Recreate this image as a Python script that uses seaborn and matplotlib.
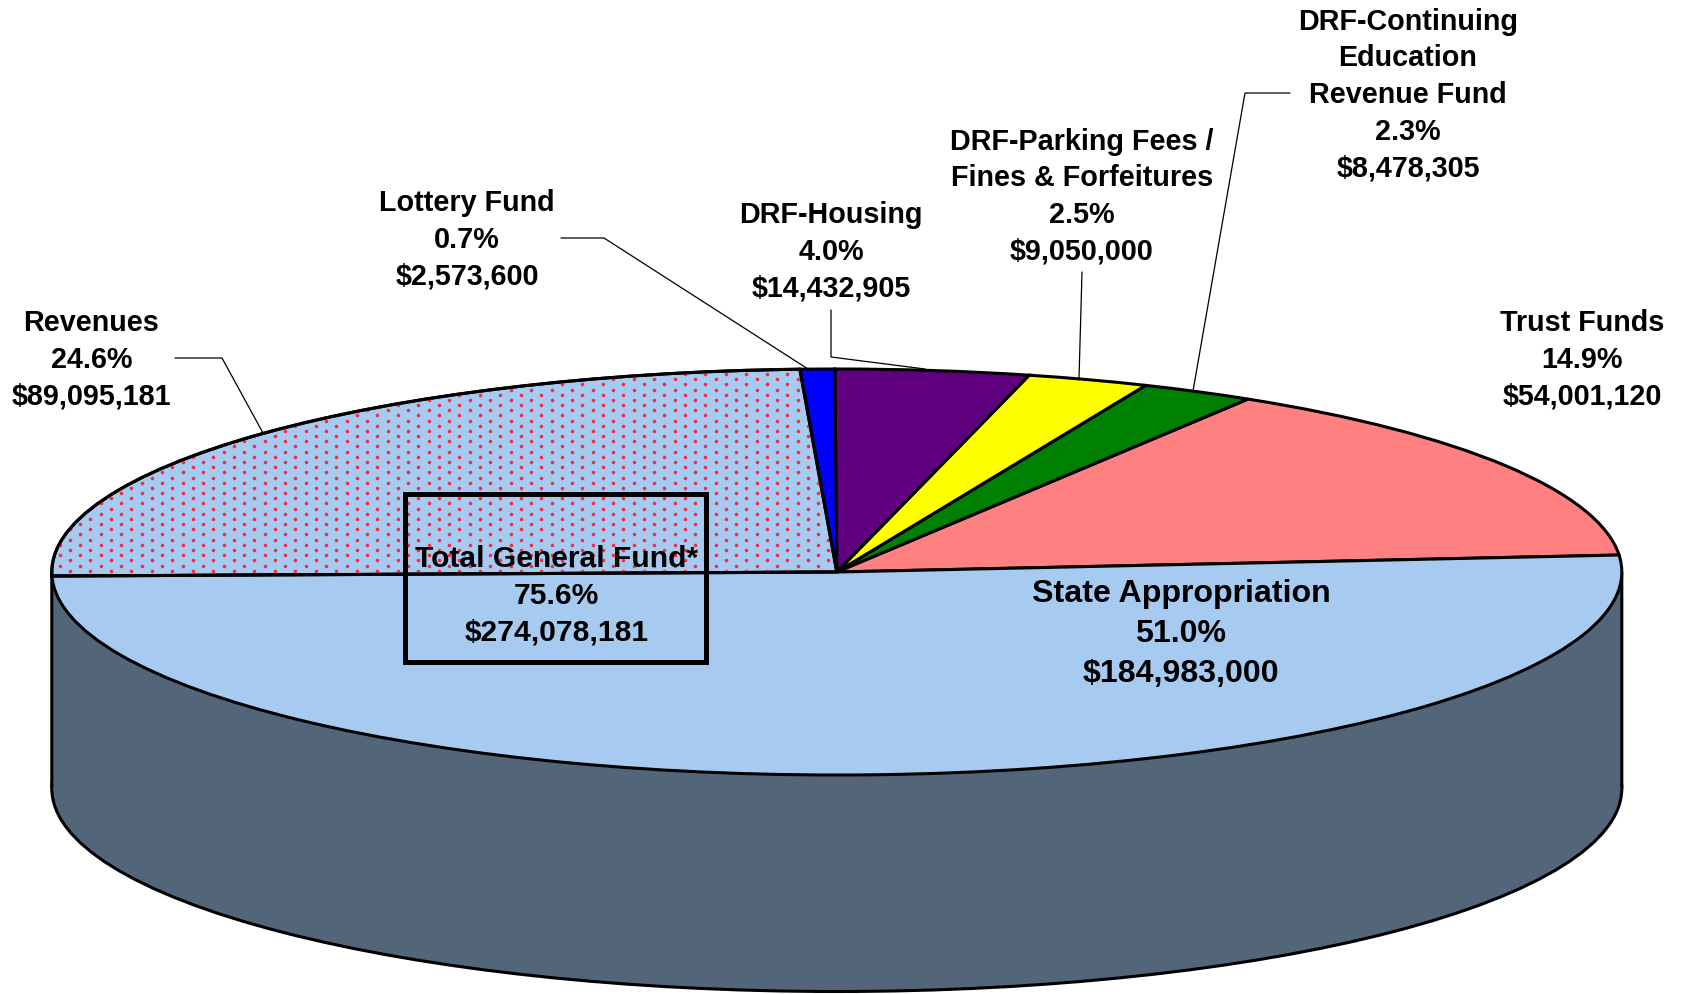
import numpy as np
import matplotlib
matplotlib.use("Agg")
import matplotlib.pyplot as plt
from matplotlib.patches import Rectangle, Wedge, Ellipse
import seaborn as sns

# ---- data -----------------------------------------------------------
categories = ["Trust Funds", "DRF-Continuing\nEducation\nRevenue Fund",
              "DRF-Parking Fees /\nFines & Forfeitures", "DRF-Housing",
              "Lottery Fund", "Revenues", "State Appropriation"]
amounts = [54001120, 8478305, 9050000, 14432905, 2573600, 89095181, 184983000]
general_fund_members = ["Revenues", "State Appropriation"]
general_fund_label = "Total General Fund*"

# ---- style ----------------------------------------------------------
slice_colors = ["#FF8080", "#008000", "#FFFF00", "#5F007F", "#0000FF", "#A6CAF0", "#A6CAF0"]
wall_color = "#536579"
dot_color = "#F22A44"

W, H = 1686, 995
CX, CY, RX, RY = 836.8, 573.0, 785.0, 203.0   # ellipse geometry, pixels
DEPTH = 216.5 / RY
START = 4.8

sns.set_theme(style="white")
plt.rcParams["font.family"] = ["Liberation Sans", "DejaVu Sans"]
plt.rcParams["font.weight"] = "bold"

fig = plt.figure(figsize=(W / 100, H / 100), dpi=100, facecolor="white")
ax = fig.add_axes([0, 0, 1, 1])


def px(x, y):
    """pixel position in the reference -> data coordinates of the pie axes"""
    return (x - CX) / RX, (CY - y) / RY


EDGE = dict(edgecolor="black", linewidth=2.2)

# side wall: lower face + body
ax.pie([1], colors=[wall_color], center=(0, -DEPTH), radius=1,
       wedgeprops=dict(zorder=1, linewidth=0))
ax.add_patch(Ellipse((0, -DEPTH), 2, 2, fill=False, zorder=1.05, **EDGE))
ax.fill_between([-1, 1], [-DEPTH, -DEPTH], [0, 0], color=wall_color, lw=0, zorder=1.1)
for side in (-1, 1):
    ax.plot([side, side], [-DEPTH, 0], color="black", lw=2.2, zorder=1.2,
            solid_capstyle="butt", snap=False)

# top face
wedges, _ = ax.pie(amounts, colors=slice_colors, startangle=START, counterclock=True,
                   center=(0, 0), radius=1,
                   wedgeprops=dict(zorder=2, **EDGE))
for w in wedges:
    w.set_zorder(2)

by_name = dict(zip(categories, wedges))

# dotted fill of the Revenues slice
lat_x, lat_y = [], []
for i in range(0, 45):
    row_x = np.arange(-2, 44) * 20.5 + 70 + (10.25 if i % 2 else 0)
    lat_x.extend(row_x)
    lat_y.extend([571.7 - 5.176 * i] * len(row_x))
dx, dy = px(np.array(lat_x), np.array(lat_y))
before = len(ax.collections)
sns.scatterplot(x=dx, y=dy, ax=ax, color=dot_color, s=6.5, linewidth=0, legend=False, zorder=2.1)
ax.collections[before].set_clip_path(by_name["Revenues"])
# redraw outline of the slice above the dots
outline = by_name["Revenues"]
ax.add_patch(Wedge((0, 0), 1, outline.theta1, outline.theta2, fill=False, zorder=2.2, **EDGE))

ax.set_aspect("auto")
ax.set_xlim(-CX / RX, (W - CX) / RX)
ax.set_ylim((CY - H) / RY, CY / RY)
ax.set_xlabel("")
ax.set_ylabel("")
ax.axis("off")

# ---- labels ---------------------------------------------------------
total = sum(amounts)


def block(name, value):
    return f"{name}\n{value / total * 100:.1f}%\n${value:,.0f}"


label_pos = {
    "Revenues": (91.4, 360, 20.7, 1.39),
    "Lottery Fund": (467, 240, 20.7, 1.39),
    "DRF-Housing": (831, 251.5, 20.7, 1.39),
    "DRF-Parking Fees /\nFines & Forfeitures": (1082, 196.5, 20.7, 1.39),
    "DRF-Continuing\nEducation\nRevenue Fund": (1408, 95, 20.7, 1.39),
    "Trust Funds": (1582, 360, 20.7, 1.39),
    "State Appropriation": (1181, 634, 23.1, 1.43),
}
for name, val in zip(categories, amounts):
    x, y, size, spacing = label_pos[name]
    ax.text(*px(x, y), block(name, val), ha="center", va="center", ma="center",
            fontsize=size, fontweight="bold", color="black", linespacing=spacing, zorder=5)

# Leader lines (layout)
leaders = {
    "Revenues": [(175, 359), (222, 359), (263, 434)],
    "Lottery Fund": [(561, 239), (604, 239), (808, 370)],
    "DRF-Housing": [(831, 311), (831, 358), (925, 370)],
    "DRF-Parking Fees /\nFines & Forfeitures": [(1082, 273), (1079, 380)],
    "DRF-Continuing\nEducation\nRevenue Fund": [(1290, 94), (1245, 94), (1193, 392)],
}
for name, pts in leaders.items():
    xs, ys = zip(*[px(*p) for p in pts])
    ax.plot(xs, ys, color="black", lw=0.9, zorder=1.8, solid_joinstyle="miter")

# Total General Fund box
gf_total = sum(amounts[categories.index(n)] for n in general_fund_members)
x0, y0 = px(405.5, 662.5)
x1, y1 = px(706.5, 494.5)
ax.add_patch(Rectangle((x0, y0), x1 - x0, y1 - y0, fill=False, edgecolor="black",
                       linewidth=3.6, zorder=4, joinstyle="miter"))
ax.text(*px(556.5, 595.5), block(general_fund_label, gf_total), ha="center", va="center",
        ma="center", fontsize=21.6, fontweight="bold", color="black", linespacing=1.4, zorder=5)

fig.savefig("out.png", dpi=100, facecolor="white")
